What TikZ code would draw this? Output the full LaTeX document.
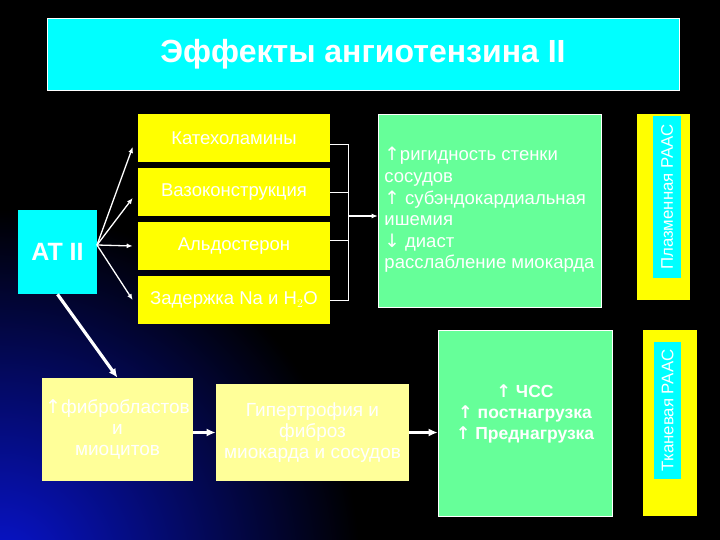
\documentclass[tikz,border=0pt]{standalone}
\usepackage{fontspec}
\setmainfont{Liberation Sans}
\newfontfamily\arrfont{DejaVu Sans}
\usetikzlibrary{arrows.meta,calc}
\definecolor{bgblue}{HTML}{0814D0}
\definecolor{raascyan}{HTML}{00FFFF}
\definecolor{effyellow}{HTML}{FFFF00}
\definecolor{effgreen}{HTML}{66FF99}
\definecolor{paleyellow}{HTML}{FFFF99}
\newcommand{\upar}{{\arrfont ↑}}
\newcommand{\dnar}{{\arrfont ↓}}
\tikzset{
  box/.style      = {draw=white,line width=0.6pt,text=white,align=center,
                     inner sep=0pt},
  titlebox/.style = {box,fill=raascyan,minimum width=632pt,minimum height=72pt,
                     font=\fontsize{32}{36}\selectfont\bfseries},
  atbox/.style    = {box,draw=none,fill=raascyan,minimum width=79pt,minimum height=84pt,
                     font=\fontsize{25}{28}\selectfont\bfseries},
  effect/.style   = {box,draw=none,fill=effyellow,minimum width=192pt,minimum height=48pt,
                     font=\fontsize{18.5}{21}\selectfont},
  result/.style   = {box,fill=effgreen,font=\fontsize{18.5}{21.6}\selectfont},
  tissue/.style   = {box,draw=none,fill=paleyellow,font=\fontsize{19}{21}\selectfont},
  raasout/.style  = {box,draw=none,fill=effyellow},
  raasin/.style   = {box,draw=none,fill=raascyan,rotate=90,
                     font=\fontsize{16.8}{18}\selectfont},
  thin/.style     = {-{Latex[length=6pt,width=5pt]},white,line width=1.3pt},
  thick/.style    = {-{Latex[length=9pt,width=8pt]},white,line width=3.2pt},
  brace/.style    = {white,line width=0.9pt},
}

\begin{document}
\begin{tikzpicture}[x=1pt,y=-1pt]
  \useasboundingbox (0,0) rectangle (720,540);
  % background
  \fill[black] (0,0) rectangle (720,540);
  \begin{scope}
    \clip (0,0) rectangle (720,540);
    \shade[inner color=bgblue,outer color=black] (0,570) circle (360);
  \end{scope}

  \node[titlebox] (title) at (363,54) {Эффекты ангиотензина II};

  \node[atbox] (at) at (57.5,252) {AT II};

  \node[effect] (kat) at (234,138) {Катехоламины};
  \node[effect] (vaz) at (234,192) {Вазоконструкция};
  \node[effect] (ald) at (234,246) {Альдостерон};
  \node[effect] (zad) at (234,300) {Задержка Na и H$_2$O};

  \node[result,minimum width=223pt,minimum height=193pt] (rig) at (489.5,210.5)
    {\begin{tabular}{@{}l@{}}\upar ригидность стенки\\сосудов\\
     \upar\ субэндокардиальная\\ишемия\\\dnar\ диаст\\расслабление миокарда\end{tabular}};

  \node[raasout,minimum width=53pt,minimum height=186pt] (plo) at (663.5,207) {};
  \node[raasin,minimum width=162pt,minimum height=28pt] (pli) at (667,197) {Плазменная РААС};

  \node[tissue,minimum width=151pt,minimum height=103pt] (fib) at (117.5,429.5)
    {\upar фибробластов\\и\\миоцитов};
  \node[tissue,minimum width=193pt,minimum height=97pt] (hyp) at (312.5,432.5)
    {Гипертрофия и\\фиброз\\миокарда и сосудов};

  \node[result,minimum width=174pt,minimum height=186pt,
        font=\fontsize{17.5}{21}\selectfont\bfseries] (chss) at (525,423)
    {\upar\ ЧСС\\\upar\ постнагрузка\\\upar\ Преднагрузка\\\mbox{}};

  \node[raasout,minimum width=54pt,minimum height=186pt] (tko) at (670,423) {};
  \node[raasin,minimum width=137pt,minimum height=27pt] (tki) at (667.5,410.5) {Тканевая РААС};

  % AT II fan
  \coordinate (atout) at (97,245);
  \draw[thin] (atout) -- ($(kat.west)+(-5,9)$);
  \draw[thin] (atout) -- ($(vaz.west)+(-5,6)$);
  \draw[thin] (atout) -- ($(ald.west)+(-5,0)$);
  \draw[thin] (atout) -- ($(zad.west)+(-5,0)$);

  % bracket
  \coordinate (brk) at (348,216);
  \draw[brace] ($(kat.east)+(0,6)$) -| ($(zad.east)+(18,0)$) -- (zad.east);
  \draw[brace] (vaz.east) -- ++(18,0);
  \draw[brace] ($(ald.east)+(0,-6)$) -- ++(18,0);
  \draw[thin] (brk) -- (brk -| rig.west);

  % tissue chain
  \draw[thick] (at.south) -- (fib.north);
  \draw[thick] (fib.east |- hyp.west) -- (hyp.west);
  \draw[thick] (hyp.east) -- (hyp.east -| chss.west);
\end{tikzpicture}
\end{document}
